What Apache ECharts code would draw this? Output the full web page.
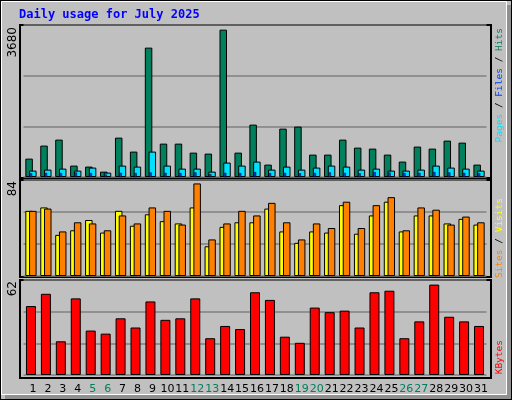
<!DOCTYPE html>
<html><head><meta charset="utf-8">
<script src="https://cdn.jsdelivr.net/npm/echarts@6/dist/echarts.min.js"></script>
<style>html,body{margin:0;padding:0;background:#c0c0c0}#c{width:512px;height:400px}</style>
</head><body><div id="c"></div>
<script>
const days = ['1','2','3','4','5','6','7','8','9','10','11','12','13','14','15','16','17','18','19','20','21','22','23','24','25','26','27','28','29','30','31'];
const weekendDays = ['5','6','12','13','19','20','26','27'];
const hits = [445,760,905,276,252,130,953,615,3132,808,808,590,566,3567,590,1268,300,1171,1220,542,542,905,711,687,542,373,736,687,881,832,300];
const files = [90,100,95,110,95,60,100,95,110,100,95,110,70,100,95,120,95,100,90,100,110,100,90,120,110,95,100,120,110,100,95];
const pages = [155,179,203,155,228,106,276,252,615,276,203,203,130,349,276,373,179,252,179,228,276,252,179,203,155,155,179,276,228,203,155];
const visits = [57,60,36,40,49,38,57,44,54,48,46,60,26,43,47,47,59,39,29,39,38,62,37,53,65,39,53,53,46,50,45];
const sites = [57,59,39,47,46,40,53,46,60,57,45,81,32,46,57,53,64,47,32,46,42,65,42,62,69,40,60,58,45,52,47];
const kbytes = [45,53,22,50,29,27,37,31,48,36,37,50,24,32,30,54,49,25,21,44,41,42,31,54,55,24,35,59,38,35,32];
const maxHits = 3680, maxVisits = 84, maxKB = 62;

const chart = echarts.init(document.getElementById('c'));
const bs = {borderColor:'#000',borderWidth:1};
const grids = [
 {left:23.5,right:25.5,top:25,height:152},
 {left:23.5,right:25.5,top:180,height:96},
 {left:23.5,right:25.5,top:280,height:95}
];
function xa(g, show){
 return {type:'category',gridIndex:g,data:days,axisLine:{show:false},axisTick:{show:false},
  axisLabel:{show:show,interval:0,margin:9,padding:[0,0,0,4],fontFamily:'DejaVu Sans',fontSize:11,
   color:(v)=>weekendDays.includes(v)?'#00805c':'#000'}};
}
function ya(g,max){
 return {type:'value',gridIndex:g,min:0,max:max,interval:max/3,axisLabel:{show:false},axisLine:{show:false},axisTick:{show:false},
  splitLine:{show:true,lineStyle:{color:'#808080',width:1.5}}};
}
const xAxis=[xa(0,false),xa(1,false),xa(2,true),
 {type:'category',gridIndex:0,data:days,show:false}];
const yAxis=[ya(0,maxHits),ya(1,maxVisits),ya(2,maxKB),
 {type:'value',gridIndex:0,min:0,max:maxHits,show:false,splitLine:{show:false}}];
const series=[
 {name:'Hits',type:'bar',xAxisIndex:0,yAxisIndex:0,data:hits,barWidth:7.5,barGap:'-50%',itemStyle:Object.assign({color:'#00805c'},bs),z:2},
 {name:'Pages',type:'bar',xAxisIndex:0,yAxisIndex:0,data:pages,barWidth:7.5,itemStyle:Object.assign({color:'#00e0ff'},bs),z:3},
 {name:'Files',type:'bar',xAxisIndex:3,yAxisIndex:3,data:files,barWidth:2.5,itemStyle:{color:'#0040ff',borderColor:'#000',borderWidth:0.5},z:5},
 {name:'Visits',type:'bar',xAxisIndex:1,yAxisIndex:1,data:visits,barWidth:7.5,barGap:'-50%',itemStyle:Object.assign({color:'#ffff00'},bs)},
 {name:'Sites',type:'bar',xAxisIndex:1,yAxisIndex:1,data:sites,barWidth:7.5,itemStyle:Object.assign({color:'#ff8000'},bs)},
 {name:'KBytes',type:'bar',xAxisIndex:2,yAxisIndex:2,data:kbytes,barWidth:10,itemStyle:Object.assign({color:'#ff0000'},bs)}
];
function frame(y,h){return {type:'rect',shape:{x:20,y:y,width:471,height:h},style:{fill:null,stroke:'#000',lineWidth:2},z:-1,silent:true};}
function vtext(x,y,text){return {type:'text',x:x,y:y,rotation:Math.PI/2,style:{text:text,font:'12px DejaVu Sans',fill:'#000',align:'right',verticalAlign:'middle'}};}
const mono='9.5px DejaVu Sans Mono';
const graphic=[
 {type:'rect',shape:{x:0,y:0,width:512,height:400},style:{fill:'#c0c0c0',stroke:'#000',lineWidth:2},z:-10},
 {type:'rect',shape:{x:507,y:5,width:4,height:394},style:{fill:'#909090'},z:-9},
 {type:'rect',shape:{x:5,y:395,width:506,height:4},style:{fill:'#909090'},z:-9},
 {type:'rect',shape:{x:1.5,y:1.5,width:505,height:393},style:{fill:'#c0c0c0',stroke:'#fff',lineWidth:1},z:-9},
 frame(25,153),frame(180,97),frame(280,98),
 {type:'text',x:19,y:9,style:{text:'Daily usage for July 2025',font:'bold 12px DejaVu Sans Mono',fill:'#0000ff'}},
 vtext(13,27,'3680'),
 vtext(13,181,'84'),
 vtext(13,281,'62'),
 {type:'text',x:500,y:28,rotation:Math.PI/2,style:{text:'{p|Pages}{s| / }{f|Files}{s| / }{h|Hits}',align:'right',verticalAlign:'middle',
  rich:{p:{fill:'#00e0ff',font:mono},f:{fill:'#0040ff',font:mono},h:{fill:'#00805c',font:mono},s:{fill:'#000',font:mono}}}},
 {type:'text',x:500,y:198,rotation:Math.PI/2,style:{text:'{a|Sites}{s| / }{v|Visits}',align:'right',verticalAlign:'middle',
  rich:{a:{fill:'#ff8000',font:mono},v:{fill:'#ffff00',font:mono},s:{fill:'#000',font:mono}}}},
 {type:'text',x:500,y:340,rotation:Math.PI/2,style:{text:'KBytes',align:'right',verticalAlign:'middle',font:mono,fill:'#ff0000'}}
];
chart.setOption({animation:false,backgroundColor:'#c0c0c0',grid:grids,xAxis:xAxis,yAxis:yAxis,series:series,graphic:graphic});
</script></body></html>
